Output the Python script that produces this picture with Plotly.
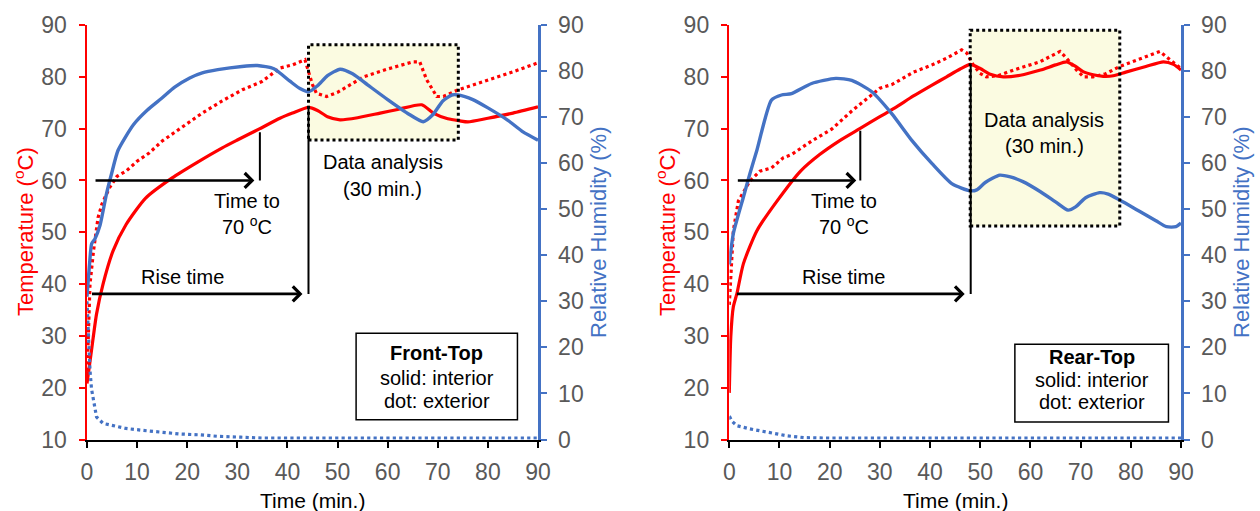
import plotly.graph_objects as go

# ---------------- data ----------------
TIME_TICKS = [0, 10, 20, 30, 40, 50, 60, 70, 80, 90]
TEMP_TICKS = [10, 20, 30, 40, 50, 60, 70, 80, 90]
RH_TICKS = [0, 10, 20, 30, 40, 50, 60, 70, 80, 90]

# Front-Top (left panel)
ft_in_time = [0, 0.9, 1.9, 3.2, 5.2, 7.8, 11.7, 17, 22, 27, 30, 34.5, 38.5, 41, 44.2, 46, 48,
              50.5, 54, 58.5, 62, 66.8, 69.1, 72, 74.4, 76, 80, 85, 90]
ft_in_temp = [20.8, 27.2, 34.2, 40, 46.4, 51.5, 56.6, 60.5, 63.5, 66.3, 67.8, 70, 72, 73, 74.1, 73.5, 72.3,
              71.7, 72.1, 73, 73.7, 74.6, 73, 71.9, 71.5, 71.3, 72, 73, 74.2]
ft_ex_time = [0, 0.3, 0.6, 1.3, 2.2, 3, 4.5, 6, 7.8, 10, 12.4, 15, 18.9, 23, 26.9, 31, 34.9, 38.5, 41,
              43.5, 44.2, 45, 45.8, 47.8, 50, 55.2, 60, 65.1, 66.4, 67.8, 69.8, 71.1, 74.1, 78.4, 82, 85.1, 90]
ft_ex_temp = [22, 32, 40, 46.4, 52.8, 55.5, 58.6, 60.8, 61.8, 63.7, 65.3, 67.6, 70.2, 73, 75.3, 77.5, 79.1,
              81.7, 82.3, 83.3, 81, 78.5, 76.8, 76.2, 77, 80, 81.5, 82.9, 82.9, 79.4, 76.2, 76.2, 77.5, 78.8,
              80, 81, 82.7]
ft_rh_in_time = [0, 0.5, 0.93, 1.6, 2.6, 3.9, 4.9, 6.2, 9.3, 12, 14.9, 17.5, 20.5, 23, 26.1, 30.9, 34,
                 37.3, 40.5, 42.5, 44.2, 46, 48, 50.5, 53, 56, 60, 64, 67.1, 69, 71, 72.8, 74.1, 77, 80,
                 84, 87, 90]
ft_rh_in = [31, 38, 42.5, 43.6, 46.5, 53.4, 57.7, 62.8, 68.4, 71.5, 74.1, 76.5, 78.5, 79.6, 80.3, 81, 81.2,
            80.5, 77.8, 76.2, 75.5, 76.8, 79, 80.4, 79.4, 77, 73.8, 70.8, 69, 70.5, 73.5, 74.8, 74.8, 73.8,
            72, 69.3, 66.8, 65]
ft_rh_ex_time = [0, 0.3, 0.6, 0.9, 1.3, 1.9, 3.2, 5, 7.8, 11, 14.4, 18.4, 22.7, 26, 30.7, 35, 40, 50, 60,
                 70, 80, 90]
ft_rh_ex = [30, 22, 15, 11, 8.5, 4.9, 3.5, 3.0, 2.4, 2.0, 1.6, 1.2, 1.0, 0.7, 0.5, 0.3, 0.3, 0.3, 0.3,
            0.3, 0.3, 0.3]

# Rear-Top (right panel)
rt_in_time = [0, 0.3, 0.8, 1.5, 2.8, 5.5, 9.5, 14.2, 18, 22, 26, 30, 33, 36.7, 40.4, 43.3, 46, 48, 50,
              52, 54.6, 58, 62, 65, 67.2, 69, 70.5, 72.5, 74.5, 76.5, 79, 83, 86.5, 88.5, 90]
rt_in_temp = [19, 29.9, 35.6, 38.1, 43.9, 50.3, 56, 61.8, 65, 67.7, 70, 72.3, 74, 76.3, 78.4, 80, 81.5,
              82.4, 81.6, 80.5, 80, 80.3, 81.3, 82.3, 82.9, 82, 81, 80.4, 80.1, 80.2, 80.9, 82, 82.9,
              82.4, 81.3]
rt_ex_time = [0, 0.2, 0.5, 0.8, 1.8, 4.1, 6.1, 8.4, 10.8, 12.4, 16.4, 20.4, 24.4, 28.4, 30, 32.4, 36.7,
              40.4, 43.3, 46.3, 47.3, 48.5, 49.9, 51.2, 53.5, 56.6, 61.9, 65.9, 67.2, 69.2, 70.6, 72.5,
              75, 77.8, 80.5, 83.1, 85.8, 87.8, 90]
rt_ex_temp = [36, 40, 44.5, 50.3, 56, 59.9, 61.8, 62.4, 64.4, 65, 67.6, 69.9, 73.4, 76.6, 77.8, 78.5, 80.9,
              82.3, 83.6, 85.2, 84.6, 82.5, 80.7, 80, 80.2, 81.3, 82.9, 84.9, 83.6, 81.3, 80, 80, 80.6,
              82, 83, 83.9, 84.9, 83.3, 81.6]
rt_rh_in_time = [0, 0.8, 2.8, 4.1, 5.5, 8.4, 10.4, 12.4, 16.4, 21.2, 24.4, 28.4, 32.4, 36.4, 40.4, 44.4,
                 48, 49.3, 51, 53.9, 56, 58.5, 62, 65, 67.5, 69, 71, 73.8, 75.5, 77.8, 81.8, 85, 87.1,
                 89, 90]
rt_rh_in = [38, 44.7, 52.6, 57.7, 62.8, 73.7, 74.8, 75.1, 77.3, 78.4, 78, 75.5, 70.7, 64.9, 59.9, 55.5,
            54, 54.2, 55.8, 57.4, 57, 56, 53.8, 51.6, 49.8, 50.5, 52.5, 53.6, 53.3, 52, 49.5, 47.5, 46.2,
            46.2, 47]
rt_rh_ex_time = [0, 0.1, 0.5, 1.5, 4.1, 7.5, 11.5, 15, 20, 30, 40, 50, 60, 70, 80, 90]
rt_rh_ex = [5, 4.9, 4, 3, 2.3, 1.6, 0.8, 0.4, 0.3, 0.3, 0.3, 0.3, 0.3, 0.3, 0.3, 0.3]

# ---------------- style ----------------
RED = "#FF0000"
BLUE = "#4472C4"
GRAY = "#595959"
FONT = "Liberation Sans, Arial, sans-serif"
W, H = 1260, 511

fig = go.Figure()


def add_series(xa, ya, ya2, tin, vin, tex, vex, trin, rin, trex, rex):
    fig.add_trace(go.Scatter(x=tin, y=vin, xaxis=xa, yaxis=ya, mode="lines",
                             line=dict(color=RED, width=3.2, shape="spline", smoothing=0.6)))
    fig.add_trace(go.Scatter(x=tex, y=vex, xaxis=xa, yaxis=ya, mode="lines",
                             line=dict(color=RED, width=3.2, dash="dot")))
    fig.add_trace(go.Scatter(x=trin, y=rin, xaxis=xa, yaxis=ya2, mode="lines",
                             line=dict(color=BLUE, width=3.4, shape="spline", smoothing=0.6)))
    fig.add_trace(go.Scatter(x=trex, y=rex, xaxis=xa, yaxis=ya2, mode="lines",
                             line=dict(color=BLUE, width=3.2, dash="dot")))


add_series("x", "y", "y2", ft_in_time, ft_in_temp, ft_ex_time, ft_ex_temp,
           ft_rh_in_time, ft_rh_in, ft_rh_ex_time, ft_rh_ex)
add_series("x2", "y3", "y4", rt_in_time, rt_in_temp, rt_ex_time, rt_ex_temp,
           rt_rh_in_time, rt_rh_in, rt_rh_ex_time, rt_rh_ex)

YDOM = [1 - 439.5 / H, 1 - 25 / H]
XDOM1 = [87 / W, 538 / W]
XDOM2 = [729.3 / W, 1181 / W]

tickfont = dict(family=FONT, size=23, color=GRAY)


def xaxis(dom, anchor):
    return dict(domain=dom, anchor=anchor, range=[0, 90], tickvals=TIME_TICKS, showgrid=False,
                zeroline=False, showline=True, linecolor="black", linewidth=2.5, ticks="outside",
                ticklen=6, tickwidth=2, tickcolor="black", tickfont=tickfont, ticklabelstandoff=4,
                automargin=False, fixedrange=True)


def yaxis(anchor, color, rng, vals, side="left", overlay=None):
    d = dict(anchor=anchor, range=rng, tickvals=vals, showgrid=False, zeroline=False, showline=True,
             linecolor=color, linewidth=2.5, ticks="outside", ticklen=6, tickwidth=2, tickcolor=color,
             tickfont=tickfont, side=side, ticklabelstandoff=7, automargin=False, fixedrange=True)
    if overlay:
        d["overlaying"] = overlay
    else:
        d["domain"] = YDOM
    return d


fig.update_layout(
    width=W, height=H, margin=dict(l=0, r=0, t=0, b=0, autoexpand=False),
    paper_bgcolor="white", plot_bgcolor="rgba(0,0,0,0)", showlegend=False,
    font=dict(family=FONT, color="black"), hovermode=False,
    xaxis=xaxis(XDOM1, "y"),
    yaxis=yaxis("x", RED, [10, 90], TEMP_TICKS),
    yaxis2=yaxis("x", BLUE, [0, 90], RH_TICKS, side="right", overlay="y"),
    xaxis2=xaxis(XDOM2, "y3"),
    yaxis3=yaxis("x2", RED, [10, 90], TEMP_TICKS),
    yaxis4=yaxis("x2", BLUE, [0, 90], RH_TICKS, side="right", overlay="y3"),
)

shapes = []
annos = []


def txt(x, y, s, xr, yr, size=20, **kw):
    annos.append(dict(x=x, y=y, xref=xr, yref=yr, text=s, showarrow=False,
                      font=dict(family=FONT, size=size, color=kw.pop("color", "black")), **kw))


def panel_decor(xr, yr, box, t70, rise, data_txt, legend, name):
    # analysis box
    x0, x1, y0, y1 = box
    shapes.append(dict(type="rect", xref=xr, yref=yr, x0=x0, x1=x1, y0=y0, y1=y1,
                       fillcolor="#FBFBE1", line=dict(width=0), layer="below"))
    shapes.append(dict(type="rect", xref=xr, yref=yr, x0=x0, x1=x1, y0=y0, y1=y1,
                       line=dict(color="black", width=3, dash="dot"), layer="above"))
    # time to 70
    a0, a1, ay, vx, vy0, vy1, tx = t70
    annos.append(dict(x=a1, y=ay, ax=a0, ay=ay, xref=xr, yref=yr, axref=xr, ayref=yr, text="",
                      showarrow=True, arrowhead=4, arrowsize=1.1, arrowwidth=2.6, arrowcolor="black"))
    shapes.append(dict(type="line", xref=xr, yref=yr, x0=vx, x1=vx, y0=vy0, y1=vy1,
                       line=dict(color="black", width=2)))
    txt(tx, 56.1, "Time to", xr, yr)
    txt(tx, 51.3, "70 <sup>o</sup>C", xr, yr)
    # rise time
    r0, r1, ry, rvx, rvy1, rtx = rise
    annos.append(dict(x=r1, y=ry, ax=r0, ay=ry, xref=xr, yref=yr, axref=xr, ayref=yr, text="",
                      showarrow=True, arrowhead=4, arrowsize=1.1, arrowwidth=2.6, arrowcolor="black"))
    shapes.append(dict(type="line", xref=xr, yref=yr, x0=rvx, x1=rvx, y0=ry, y1=rvy1,
                       line=dict(color="black", width=2)))
    txt(rtx, 41.3, "Rise time", xr, yr)
    # data analysis label
    dx, dy1, dy2 = data_txt
    txt(dx, dy1, "Data analysis", xr, yr)
    txt(dx, dy2, "(30 min.)", xr, yr)
    # legend box
    lx0, lx1, ly0, ly1, lcx, l1, l2, l3 = legend
    shapes.append(dict(type="rect", xref=xr, yref=yr, x0=lx0, x1=lx1, y0=ly0, y1=ly1,
                       fillcolor="white", line=dict(color="black", width=1.5), layer="above"))
    txt(lcx, l1, "<b>" + name + "</b>", xr, yr)
    txt(lcx, l2, "solid: interior", xr, yr)
    txt(lcx, l3, "dot: exterior", xr, yr)


panel_decor("x", "y", (44.2, 74.1, 67.8, 86.2),
            (1.4, 33.4, 60, 34.5, 60, 69.3, 31.9),
            (0.7, 43.0, 38.1, 44.2, 74.0, 19.1),
            (59.0, 63.5, 58.4),
            (53.7, 85.9, 13.8, 30.5, 69.8, 26.6, 21.9, 17.5), "Front-Top")
panel_decor("x2", "y3", (48.0, 77.8, 51.2, 89.0),
            (1.4, 25.3, 60, 26.1, 60, 69.6, 22.8),
            (1.2, 46.9, 38.1, 48.1, 82.3, 22.8),
            (62.8, 71.7, 66.6),
            (56.9, 87.5, 13.4, 28.4, 72.2, 26.0, 21.5, 17.3), "Rear-Top")

# axis titles
YC = 1 - 232 / H
for xpix, s, col in [(24, "Temperature (<sup>o</sup>C)", RED), (598, "Relative Humidity (%)", BLUE),
                     (666, "Temperature (<sup>o</sup>C)", RED), (1241, "Relative Humidity (%)", BLUE)]:
    txt(xpix / W, YC, s, "paper", "paper", size=22, color=col, textangle=-90,
        xanchor="center", yanchor="middle")
for xpix in [312.5, 955]:
    txt(xpix / W, 1 - 500 / H, "Time (min.)", "paper", "paper", size=21,
        xanchor="center", yanchor="middle")

fig.update_layout(shapes=shapes, annotations=annos)
fig.write_html("out.html", config={"displayModeBar": False, "staticPlot": True},
               post_script="document.body.style.margin='0';document.body.style.padding='0';"
                           "document.body.style.overflow='hidden';")
